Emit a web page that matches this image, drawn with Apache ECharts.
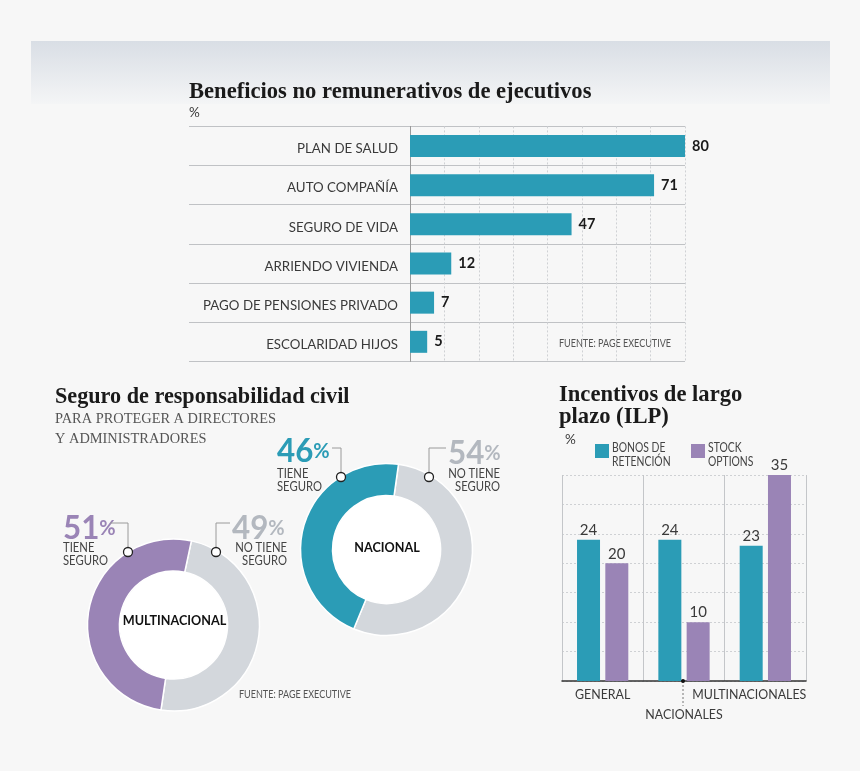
<!DOCTYPE html>
<html><head><meta charset="utf-8">
<style>html,body{margin:0;padding:0;background:#f7f7f7}#c{width:860px;height:771px}</style>
<script src="https://cdn.jsdelivr.net/npm/echarts@6/dist/echarts.min.js"></script>
</head><body><div id="c"></div>
<script>
var benefitCategories = ['PLAN DE SALUD','AUTO COMPAÑÍA','SEGURO DE VIDA','ARRIENDO VIVIENDA','PAGO DE PENSIONES PRIVADO','ESCOLARIDAD HIJOS'];
var benefitValues = [80,71,47,12,7,5];
var nacionalValues = [54,46];
var multiValues = [49,51];
var ilpCategories = ['GENERAL','NACIONALES','MULTINACIONALES'];
var bonosValues = [24,24,23];
var stockValues = [20,10,35];

var TEAL='#2b9cb6', PURPLE='#9a84b6', GRAY='#d3d7dc', MUTED='#b3b8bf', TXT='#3a3a3a';
var SERIF='"Liberation Serif"', SANS='Lato';

function txt(x,y,text,size,color,scaleX,opt){
  return {type:'text',x:x,y:y,scaleX:scaleX||1,silent:true,style:Object.assign({text:text,font:size+'px '+SANS,fill:color,textVerticalAlign:'top',lineHeight:size+1},opt||{})};
}
function title(x,y,text,size){
  return {type:'text',x:x,y:y,silent:true,style:{text:text,font:'bold '+size+'px '+SERIF,fill:'#1a1a1a',lineHeight:22}};
}
function pct(x,y,v,color){
  return {type:'text',x:x,y:y,scaleX:0.95,silent:true,style:{text:'{a|'+v+'}{b|%}',rich:{
    a:{fontSize:33,fontWeight:'bold',fontFamily:'Lato',fill:color},
    b:{fontSize:21,fontFamily:'Lato',fill:color,fontWeight:'bold'}}}};
}
function leader(points){
  return {type:'polyline',silent:true,z:5,shape:{points:points},style:{stroke:'#9a9a9a',lineWidth:1,fill:null}};
}
function dot(x,y){
  return {type:'circle',silent:true,z:6,shape:{cx:x,cy:y,r:4.5},style:{fill:'#fff',stroke:'#222',lineWidth:1.3}};
}

var option={
  backgroundColor:'#f7f7f7',animation:false,
  textStyle:{fontFamily:'Lato'},
  grid:[
    {left:410,top:126.4,width:275,height:235,containLabel:false},
    {left:562,top:475,width:244,height:206,containLabel:false}
  ],
  xAxis:[
    {gridIndex:0,type:'value',min:0,max:80,interval:10,
     axisLine:{show:false},axisTick:{show:false},axisLabel:{show:false},
     splitLine:{show:true,lineStyle:{color:'#cfd1d4',type:[2,2],width:1}}},
    {gridIndex:1,type:'category',data:ilpCategories,
     axisLine:{show:true,lineStyle:{color:'#333',width:1.5}},axisTick:{show:false},
     splitLine:{show:true,lineStyle:{color:'#c4c6c9',width:1}},
     axisLabel:{interval:0,margin:8,hideOverlap:false,color:TXT,fontSize:12.4,fontFamily:'Lato',
       formatter:function(v,i){return i===0?'{g|'+v+'}':i===1?'{n|'+v+'}':'{m|'+v+'}';},
       rich:{g:{fontSize:12.4,color:TXT},
             n:{fontSize:12.4,color:TXT,padding:[20,0,0,0]},
             m:{fontSize:12.4,color:TXT,padding:[0,32,0,0]}}}}
  ],
  yAxis:[
    {gridIndex:0,type:'category',inverse:true,data:benefitCategories,
     axisLine:{show:true,lineStyle:{color:'#9a9a9a',width:1}},
     axisTick:{show:true,length:221,lineStyle:{color:'#c0c2c5',width:1}},
     splitLine:{show:true,lineStyle:{color:'#c0c2c5',width:1}},
     axisLabel:{margin:12,color:TXT,fontSize:13.3,fontFamily:'Lato',interval:0,
       formatter:function(v){return '{l|'+v+'}';},
       rich:{l:{fontSize:13.3,color:TXT,padding:[6,0,0,0]}}}},
    {gridIndex:1,type:'value',min:0,max:35,interval:5,
     axisLine:{show:false},axisTick:{show:false},axisLabel:{show:false},
     splitLine:{show:true,lineStyle:{color:'#cfd1d4',type:[2,2],width:1}}}
  ],
  series:[
    {type:'bar',xAxisIndex:0,yAxisIndex:0,data:benefitValues,barWidth:22,
     itemStyle:{color:TEAL},
     label:{show:true,position:'right',distance:7,color:'#1a1a1a',fontWeight:'bold',fontSize:14.5,fontFamily:'Lato'}},
    {type:'bar',name:'BONOS',xAxisIndex:1,yAxisIndex:1,data:bonosValues,barWidth:23,barGap:'23%',
     itemStyle:{color:TEAL},
     label:{show:true,position:'top',distance:2,color:TXT,fontSize:15,fontFamily:'Lato'}},
    {type:'bar',name:'STOCK',xAxisIndex:1,yAxisIndex:1,data:stockValues,barWidth:23,barGap:'23%',
     itemStyle:{color:PURPLE},
     label:{show:true,position:'top',distance:2,color:TXT,fontSize:15,fontFamily:'Lato'}},
    {type:'pie',center:[386.5,549.5],radius:[54,86],startAngle:82,silent:true,label:{show:false},
     itemStyle:{borderColor:'#ffffff',borderWidth:1.5},
     data:[{value:nacionalValues[0],itemStyle:{color:GRAY}},{value:nacionalValues[1],itemStyle:{color:TEAL}}]},
    {type:'pie',center:[173.5,625],radius:[54,86],startAngle:78,silent:true,label:{show:false},
     itemStyle:{borderColor:'#ffffff',borderWidth:1.5},
     data:[{value:multiValues[0],itemStyle:{color:GRAY}},{value:multiValues[1],itemStyle:{color:PURPLE}}]}
  ],
  graphic:{elements:[
    {type:'rect',z:-10,silent:true,shape:{x:31,y:41,width:799,height:63},
     style:{fill:new echarts.graphic.LinearGradient(0,0,0,1,[{offset:0,color:'#d9dee5'},{offset:1,color:'#f4f5f6'}])}},
    {type:'circle',z:1,silent:true,shape:{cx:386.5,cy:549.5,r:54},style:{fill:'#fff'}},
    {type:'circle',z:1,silent:true,shape:{cx:173.5,cy:625,r:54},style:{fill:'#fff'}},
    title(189,81,'Beneficios no remunerativos de ejecutivos',22.6),
    txt(189,105,'%',13.5,TXT),
    txt(559,338,'FUENTE: PAGE EXECUTIVE',10.5,'#555',0.86),
    title(55,386,'Seguro de responsabilidad civil',22.2),
    {type:'text',x:55,y:409,silent:true,style:{text:'PARA PROTEGER A DIRECTORES\nY ADMINISTRADORES',font:'14.4px '+SERIF,fill:'#555',lineHeight:20}},
    title(559,384,'Incentivos de largo\nplazo (ILP)',22.6),
    txt(239,689,'FUENTE: PAGE EXECUTIVE',10.5,'#555',0.86),
    txt(565,432,'%',13.5,TXT),
    {type:'rect',silent:true,shape:{x:595,y:444,width:14,height:14},style:{fill:TEAL}},
    {type:'rect',silent:true,shape:{x:691,y:444,width:14,height:14},style:{fill:PURPLE}},
    txt(612,441,'BONOS DE\nRETENCIÓN',12.5,'#444',0.83,{lineHeight:14}),
    txt(708,441,'STOCK\nOPTIONS',12.5,'#444',0.83,{lineHeight:14}),
    {type:'line',silent:true,z:5,shape:{x1:683,y1:681,x2:683,y2:706},style:{stroke:'#777',lineWidth:1,lineDash:[2,2]}},
    {type:'circle',silent:true,z:6,shape:{cx:683,cy:681,r:2},style:{fill:'#111'}},
    // Nacional annotations
    pct(277,435,nacionalValues[1],TEAL),
    txt(277,467,'TIENE\nSEGURO',12.5,'#444',0.9,{lineHeight:13}),
    pct(448,437,nacionalValues[0],MUTED),
    txt(500,467,'NO TIENE\nSEGURO',12.5,'#444',0.9,{lineHeight:13,align:'right'}),
    leader([[332,448],[341,448],[341,477]]),
    leader([[446,448],[429,448],[429,477]]),
    dot(341,477),dot(429,477),
    {type:'text',x:387,y:547,z:7,scaleX:0.9,silent:true,style:{text:'NACIONAL',font:'bold 14px '+SANS,fill:'#111',align:'center',verticalAlign:'middle'}},
    // Multinacional annotations
    pct(63,512,multiValues[1],PURPLE),
    txt(63,541,'TIENE\nSEGURO',12.5,'#444',0.9,{lineHeight:13}),
    pct(232,512,multiValues[0],MUTED),
    txt(287,541,'NO TIENE\nSEGURO',12.5,'#444',0.9,{lineHeight:13,align:'right'}),
    leader([[110,523],[128,523],[128,552]]),
    leader([[230,523],[216,523],[216,552]]),
    dot(128,552),dot(216,552),
    {type:'text',x:174.5,y:620,z:7,scaleX:0.9,silent:true,style:{text:'MULTINACIONAL',font:'bold 14px '+SANS,fill:'#111',align:'center',verticalAlign:'middle'}}
  ]}
};
var chart=echarts.init(document.getElementById('c'),null,{renderer:'canvas'});
chart.setOption(option);
</script></body></html>
